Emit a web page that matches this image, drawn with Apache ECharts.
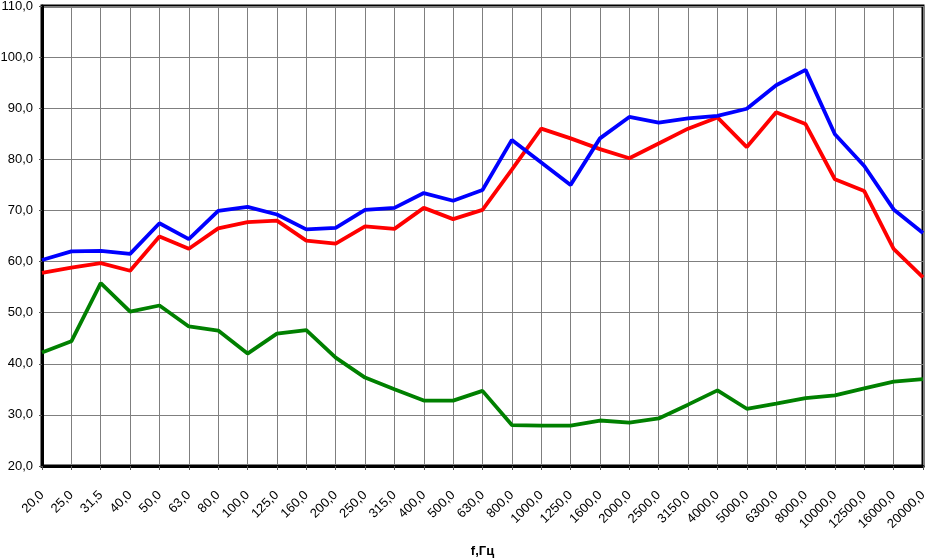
<!DOCTYPE html>
<html>
<head>
<meta charset="utf-8">
<script src="https://cdn.jsdelivr.net/npm/echarts@6/dist/echarts.min.js"></script>
<style>
html,body{margin:0;padding:0;background:#fff;}
#chart{width:927px;height:560px;}
</style>
</head>
<body>
<div id="chart"></div>
<script>
const categories = [20,25,31.5,40,50,63,80,100,125,160,200,250,315,400,500,630,800,1000,1250,1600,2000,2500,3150,4000,5000,6300,8000,10000,12500,16000,20000];
const blueValues = [60.3,62.0,62.1,61.5,67.5,64.4,69.9,70.7,69.2,66.3,66.6,70.1,70.5,73.4,71.9,74.0,83.8,79.4,75.0,84.1,88.3,87.2,88.0,88.5,89.9,94.5,97.5,84.9,78.7,70.2,65.6];
const redValues = [57.8,58.8,59.7,58.2,64.9,62.5,66.5,67.7,68.0,64.1,63.5,66.9,66.4,70.5,68.3,70.1,78.0,86.0,84.1,82.0,80.2,83.1,86.0,88.2,82.4,89.2,86.9,76.1,73.8,62.5,56.9];
const greenValues = [42.2,44.4,55.8,50.2,51.4,47.3,46.5,42.0,45.9,46.6,41.2,37.3,35.0,32.8,32.8,34.7,28.0,27.9,27.9,28.9,28.5,29.3,32.0,34.8,31.2,32.2,33.3,33.8,35.2,36.5,37.0];
const xAxisName = 'f,Гц';

const fmt = v => Number(v).toFixed(1).replace('.', ',');
const chart = echarts.init(document.getElementById('chart'), null, {renderer:'canvas'});
const lineStyle = (c) => ({color:c, width:3.8});
chart.setOption({
  animation:false,
  backgroundColor:'#fff',
  grid:{left:42, right:4, top:6, bottom:94, containLabel:false, outerBoundsMode:'none', show:true, borderColor:'#000', borderWidth:3, backgroundColor:'transparent'},
  xAxis:{
    type:'category', data:categories.map(String), boundaryGap:false,
    name:xAxisName, nameLocation:'middle', nameGap:79, nameMoveOverlap:false,
    nameTextStyle:{fontFamily:'Liberation Sans, Arial', fontSize:13, fontWeight:'bold', color:'#000'},
    axisLine:{show:true, lineStyle:{color:'#000', width:3}},
    axisTick:{show:true, alignWithLabel:true, length:4, lineStyle:{color:'#555', width:1}},
    axisLabel:{rotate:45, interval:0, margin:27, formatter:fmt, fontFamily:'Liberation Sans, Arial', fontSize:13, color:'#000'},
    splitLine:{show:true, lineStyle:{color:'#7f7f7f', width:1}}
  },
  yAxis:{
    type:'value', min:20, max:110, interval:10,
    axisLine:{show:true, lineStyle:{color:'#000', width:3}},
    axisTick:{show:true, length:3, lineStyle:{color:'#555', width:1}},
    axisLabel:{formatter:fmt, margin:9, fontFamily:'Liberation Sans, Arial', fontSize:13, color:'#000'},
    splitLine:{show:true, lineStyle:{color:'#7f7f7f', width:1}}
  },
  series:[
    {type:'line', data:greenValues, showSymbol:false, lineStyle:lineStyle('#008000'), z:2},
    {type:'line', data:redValues, showSymbol:false, lineStyle:lineStyle('#ff0000'), z:3},
    {type:'line', data:blueValues, showSymbol:false, lineStyle:lineStyle('#0000ff'), z:4}
  ]
});
</script>
</body>
</html>
